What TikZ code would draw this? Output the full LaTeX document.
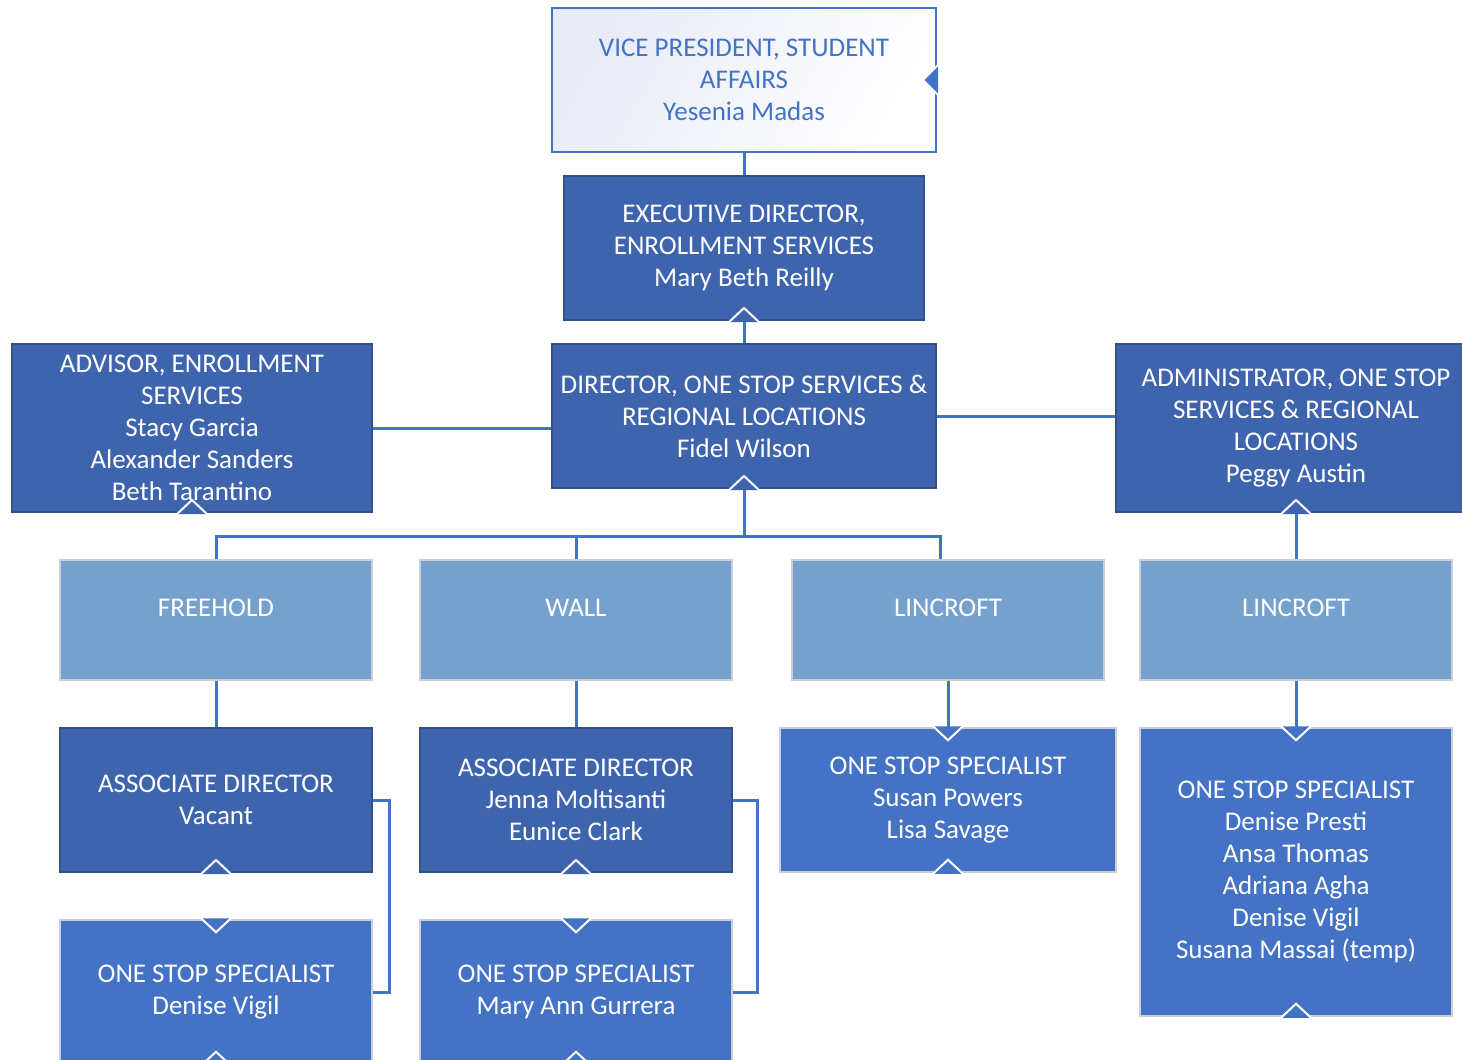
\documentclass[tikz,border=0pt]{standalone}
\usepackage{fontspec}
\setmainfont{Carlito}
\definecolor{dark}{HTML}{3F64AE}
\definecolor{darkb}{HTML}{2F528F}
\definecolor{med}{HTML}{4472C4}
\definecolor{light}{HTML}{77A1CD}
\definecolor{lgray}{HTML}{C9CFD8}
\definecolor{linec}{HTML}{4472C4}
\definecolor{vpfill}{HTML}{E8EBF6}
\tikzset{
  box/.style={rectangle, inner sep=0pt, align=center, text=white, font=\fontsize{27}{32}\selectfont},
  darkbox/.style={box, fill=dark, draw=darkb, line width=2pt},
  medbox/.style={box, fill=med, draw=lgray, line width=1.5pt},
  locbox/.style={box, fill=light, draw=lgray, line width=1.5pt, minimum width=312pt, minimum height=120pt},
  vpbox/.style={box, text=med, draw=med, line width=2pt, left color=vpfill, right color=white, shading angle=60},
  conn/.style={draw=linec, line width=3pt},
}
\newcommand{\notchU}[2]{%
  \fill[#2] ([xshift=-14pt,yshift=-1pt]#1) -- ([yshift=13pt]#1) -- ([xshift=14pt,yshift=-1pt]#1) -- cycle;
  \draw[white, line width=2pt] ([xshift=-15pt,yshift=-1pt]#1) -- ([yshift=13pt]#1) -- ([xshift=15pt,yshift=-1pt]#1);}
\newcommand{\notchD}[2]{%
  \fill[#2] ([xshift=-14pt,yshift=1pt]#1) -- ([yshift=-13pt]#1) -- ([xshift=14pt,yshift=1pt]#1) -- cycle;
  \draw[white, line width=2pt] ([xshift=-15pt,yshift=1pt]#1) -- ([yshift=-13pt]#1) -- ([xshift=15pt,yshift=1pt]#1);}
\begin{document}
\begin{tikzpicture}[x=1pt,y=-1pt]
\clip (0,0) rectangle (1462,1060);
\fill[white] (0,0) rectangle (1462,1060);
% boxes
\node[vpbox, minimum width=384pt, minimum height=144pt] (vp) at (744,80) {VICE PRESIDENT, STUDENT\\AFFAIRS\\Yesenia Madas};
\node[darkbox, minimum width=360pt, minimum height=144pt] (exec) at (744,248) {EXECUTIVE DIRECTOR,\\ENROLLMENT SERVICES\\Mary Beth Reilly};
\node[darkbox, minimum width=384pt, minimum height=144pt] (dir) at (744,416) {DIRECTOR, ONE STOP SERVICES \&\\REGIONAL LOCATIONS\\Fidel Wilson};
\node[darkbox, minimum width=360pt, minimum height=168pt] (adv) at (192,428) {ADVISOR, ENROLLMENT\\SERVICES\\Stacy Garcia\\Alexander Sanders\\Beth Tarantino};
\node[darkbox, minimum width=360pt, minimum height=168pt] (adm) at (1296,428) {ADMINISTRATOR, ONE STOP\\SERVICES \& REGIONAL\\LOCATIONS\\Peggy Austin};
\node[locbox] (loc1) at (216,620) {\raisebox{25pt}{FREEHOLD}};
\node[locbox] (loc2) at (576,620) {\raisebox{25pt}{WALL}};
\node[locbox] (loc3) at (948,620) {\raisebox{25pt}{LINCROFT}};
\node[locbox] (loc4) at (1296,620) {\raisebox{25pt}{LINCROFT}};
\node[darkbox, minimum width=312pt, minimum height=144pt] (ad1) at (216,800) {ASSOCIATE DIRECTOR\\Vacant};
\node[darkbox, minimum width=312pt, minimum height=144pt] (ad2) at (576,800) {ASSOCIATE DIRECTOR\\Jenna Moltisanti\\Eunice Clark};
\node[medbox, minimum width=336pt, minimum height=144pt] (oss3) at (948,800) {ONE STOP SPECIALIST\\Susan Powers\\Lisa Savage};
\node[medbox, minimum width=312pt, minimum height=288pt] (oss4) at (1296,872) {ONE STOP SPECIALIST\\Denise Presti\\Ansa Thomas\\Adriana Agha\\Denise Vigil\\Susana Massai (temp)};
\node[medbox, minimum width=312pt, minimum height=144pt] (oss1) at (216,992) {ONE STOP SPECIALIST\\Denise Vigil};
\node[medbox, minimum width=312pt, minimum height=144pt] (oss2) at (576,992) {ONE STOP SPECIALIST\\Mary Ann Gurrera};
% connectors
\coordinate (bus) at (744,536);
\draw[conn] (vp.south) -- (exec.north);
\draw[conn] (exec.south) -- (dir.north);
\draw[conn] (adv.east) -- (adv.east -| dir.west);
\draw[conn] (dir.east) -- (dir.east -| adm.west);
\draw[conn] (dir.south) -- (bus);
\draw[conn] (loc1.north) |- (bus) -| ([xshift=-8pt]loc3.north);
\draw[conn] (loc2.north) -- (loc2.north |- bus);
\draw[conn] (adm.south) -- (loc4.north);
\draw[conn] (loc1.south) -- (ad1.north);
\draw[conn] (loc2.south) -- (ad2.north);
\draw[conn] (loc3.south) -- (oss3.north);
\draw[conn] (loc4.south) -- (oss4.north);
\draw[conn] (ad1.east) -- ++(16,0) |- (oss1.east);
\draw[conn] (ad2.east) -- ++(24,0) |- (oss2.east);
% notches
\notchU{exec.south}{dark}
\notchU{dir.south}{dark}
\notchU{adv.south}{dark}
\notchU{adm.south}{dark}
\notchU{ad1.south}{dark}
\notchU{ad2.south}{dark}
\notchD{oss3.north}{med}
\notchU{oss3.south}{med}
\notchD{oss4.north}{med}
\notchU{oss4.south}{med}
\notchD{oss1.north}{med}
\notchU{oss1.south}{med}
\notchD{oss2.north}{med}
\notchU{oss2.south}{med}
\fill[med] ([yshift=14pt,xshift=1pt]vp.east) -- ([xshift=-14pt]vp.east) -- ([yshift=-14pt,xshift=1pt]vp.east) -- cycle;
\draw[white, line width=2pt] ([yshift=15pt,xshift=1pt]vp.east) -- ([xshift=-14pt]vp.east) -- ([yshift=-15pt,xshift=1pt]vp.east);
\end{tikzpicture}
\end{document}
